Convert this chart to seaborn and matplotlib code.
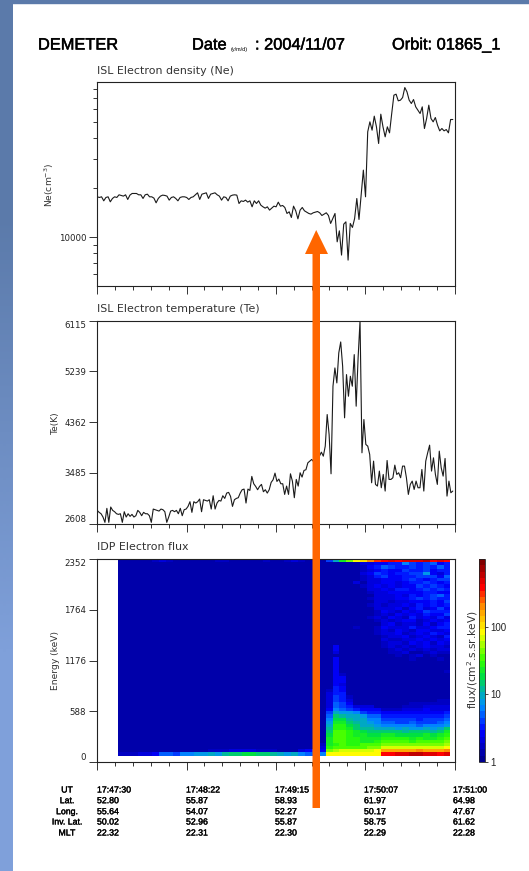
import numpy as np
import pandas as pd
import seaborn as sns
import matplotlib.pyplot as plt
import matplotlib.patheffects as pe
from matplotlib.colors import LinearSegmentedColormap, LogNorm
from matplotlib.patches import Polygon, Rectangle
from matplotlib.ticker import NullFormatter, NullLocator

sns.set_theme(style="white")
plt.rcParams["font.family"] = ["DejaVu Sans"]

W, H = 529, 871

# electron density, cm-3
ne_values = [17640,17480,17640,16680,17480,17640,16450,17240,17640,17480,18140,17980,17810,18140,17000,18060,18480,18480,18480,18140,18140,17240,18140,18300,17640,17640,17320,16220,17240,17810,18060,17980,17810,16840,17480,17640,17240,16680,17480,17640,17640,17480,17000,17480,17640,18140,18650,17000,18300,18480,18650,17240,18300,18480,18650,18140,17810,16840,17640,17480,16680,17810,18060,18140,18060,16070,16680,16530,16840,16380,16680,15340,16680,16070,16680,15700,15340,15060,15340,14650,15060,15480,
    15340,16370,15480,15630,15200,13980,14310,13220,15480,14510,12970,14640,15200,14510,14240,13980,13850,14110,14240,14370,14110,13590,13850,14110,13590,12160,13040,13980,9410,10970,7820,12040,12440,7290,12160,11500,13040,17230,12860,18050,25600,17640,43700,50240,44720,54380,46850,37130,55900,46850,40750,46850,43080,56430,72900,73920,67360,67980,70560,81100,76350,67980,64900,68600,61930,59130,56430,61930,45770,52630,63400,52630,50240,53370,47950,44300,45770,44300,45120,43080,51900,51900]

# electron temperature, K
te_values = [2838,2804,2780,2723,2631,2873,2631,2896,2838,2815,2780,2769,2780,2631,2815,2723,2780,2735,2769,2723,2746,2838,2804,2746,2804,2780,2780,2746,2631,2861,2850,2838,2826,2861,2850,2815,2631,2723,2826,2838,2815,2838,2780,2873,2746,2850,2861,2907,2988,2804,2988,2965,2988,3034,2815,3022,3010,2999,3022,2861,3091,2861,2965,3010,2999,3091,3045,3137,3149,3080,2907,3022,3045,3057,3137,3195,3206,2965,3206,3183,3425,3298,3252,3195,3252,3287,3160,3195,3137,3195,3321,3367,3482,3338,3379,3298,
    3298,3114,3258,3114,3470,3344,3057,3373,3258,3488,3413,3528,3540,3660,3689,3718,3678,3603,3746,3775,3844,3775,3948,4494,4149,3470,4983,5299,5040,5558,5748,5328,4437,5184,4810,5155,4983,5529,4638,5472,6115,3833,4408,3977,3948,3804,3315,3689,3287,3258,3517,3229,3459,3172,3700,3373,3373,3402,3620,3459,3488,3402,3603,3603,3402,3114,3287,3344,3200,3344,3229,3229,3545,3172,3689,3833,3965,3517,3746,3459,3287,3862,3574,3430,3735,3085,3344,3143,3172]

# flux colour levels (0-31) read per cell; left block is flat except these rows
flux_left_top = [1,1,1,1,1,2,3,2,1,1,1,1,1,1,2,2,1,1,1,1,1,2,1,1,2,3,2,1,1]
flux_left_r60 = [1,1,1,1,1,1,1,1,1,1,1,1,1,2,2,2,3,3,3,3,2,2,2,1,1,1,3,4,6]
flux_left_r61 = [2,2,2,3,3,4,7,7,6,8,8,9,9,10,9,11,12,12,13,13,12,12,11,10,9,10,8,7,7]
flux_right_rows = [
    "16aehkloqrsrssstrsr", "1111113344558656745", "1111112457655656575", "1111112345446556455",
    "1111113465455669435", "1111112356445566647", "1111112334445654566", "1111131334434556545",
    "1111112343434465654", "1111111334355456565", "1111111233444445544", "1111111133343545675",
    "1111111233344565655", "1111111133233444546", "1111111232334354545", "1111111133342453464",
    "1111111124324346555", "1111111123243435446", "1111111232432534353", "1111111123234423434",
    "1111111113423324245", "1111121124333533455", "1111111123243244334", "1111111123342343543",
    "1111111112334234325", "1111111113223343434", "1111111112332434243", "1141111112323234332",
    "1141111111232323233", "1131111111223112322", "1111111111121231211", "1141111111111211121",
    "1141111111111111111", "1141111111111111111", "1141111111111111111", "1141111111111111112",
    "1142111111111111111", "1144111111111111111", "1144111111111111111", "1143111111111111111",
    "1154111111111111111", "1254111111111111111", "1355111111111111111", "1365211111111111111",
    "1365311111111111122", "1376411111111222222", "1376533311112223333", "1487654442223334333",
    "16a9986554444444445", "17cbaa9775555555556", "18ddbaa886666656667", "19eecba987766766678",
    "1affdcaa98888878889", "1bffecbbaaa9a99a9ac", "1cggfedcccccbcccbce", "1dggfeeddeeddddedef",
    "1eggffeeeffffefeefg", "1eggffeefggggfggggh", "2efgffggghhhhhhhhhi", "3fggggghhjjjjjjjjjk",
    "4hijjjjjknnnnnonnno", "8kkkkkkkkrrssttssrs",
]

ne_minor = [6000, 7000, 8000, 9000, 20000, 30000, 40000, 50000, 60000, 70000, 80000]
te_ticks = [2608, 3485, 4362, 5239, 6115]
energy_ticks = [0, 588, 1176, 1764, 2352]
cbar_ticks = [1, 10, 100]

table_names = ["UT", "Lat.", "Long.", "Inv. Lat.", "MLT"]
ut_labels = ["17:47:30", "17:48:22", "17:49:15", "17:50:07", "17:51:00"]
lat_labels = ["52.80", "55.87", "58.93", "61.97", "64.98"]
long_labels = ["55.64", "54.07", "52.27", "50.17", "47.67"]
invlat_labels = ["50.02", "52.96", "55.87", "58.75", "61.62"]
mlt_labels = ["22.32", "22.31", "22.30", "22.29", "22.28"]


def rect(left, top, right, bottom):
    return [left / W, 1 - bottom / H, (right - left) / W, (bottom - top) / H]


def ftext(x, y, s, heavy=0, **kw):
    kw.setdefault("va", "center")
    kw.setdefault("color", "#111111")
    t = fig.text(x / W, 1 - y / H, s, **kw)
    if heavy:
        t.set_path_effects([pe.withStroke(linewidth=heavy, foreground="black")])


def style_axis(ax):
    for sp in ax.spines.values():
        sp.set_visible(True)
        sp.set_color("#222222")
        sp.set_linewidth(0.8)
    ax.set_xlabel("")
    ax.set_ylabel("")


def set_time_ticks(ax, convert=lambda t: t):
    ax.set_xticks([convert(t) for t in np.arange(0, 210.1, 52.5)])
    ax.set_xticks([convert(t) for t in np.arange(0, 210.1, 10.5)], minor=True)
    ax.xaxis.set_major_formatter(NullFormatter())
    ax.xaxis.set_minor_formatter(NullFormatter())
    ax.tick_params(axis="x", which="major", bottom=True, length=6, width=0.7, color="#333333")
    ax.tick_params(axis="x", which="minor", bottom=True, length=3, width=0.7, color="#333333")


fig = plt.figure(figsize=(W / 100, H / 100), dpi=100, facecolor="white")

# slide background: blue strip on the left and along the top
bg = fig.add_axes([0, 0, 13 / W, 1])
bg.imshow(np.array([[0.0], [1.0]]), aspect="auto", interpolation="bilinear",
          cmap=LinearSegmentedColormap.from_list("slide", ["#5b7aaa", "#7fa0da"]))
bg.axis("off")
fig.add_artist(Rectangle((0, 1 - 3 / H), 1, 3 / H, transform=fig.transFigure, color="#5b7aaa"))

LEFT, RIGHT = 97.2, 454.5
PANEL1 = (82.5, 285.7)
PANEL2 = (320.7, 523.7)
PANEL3 = (559.0, 762.0)

# density
ax1 = fig.add_axes(rect(LEFT, PANEL1[0], RIGHT, PANEL1[1]))
ne_time = np.linspace(0, 209, len(ne_values))
sns.lineplot(x=ne_time, y=ne_values, ax=ax1, color="#1a1a1a", linewidth=0.8, estimator=None, sort=False)
ax1.set_yscale("log")
ax1.set_xlim(0, 210)
ax1.set_ylim(5100, 87000)
ax1.set_yticks([10000])
ax1.set_yticklabels(["10000"], fontsize=6.2, color="#222222")
ax1.set_yticks(ne_minor, minor=True)
ax1.yaxis.set_minor_formatter(NullFormatter())
ax1.tick_params(axis="y", which="major", left=True, length=6, width=0.7, color="#333333", pad=2)
ax1.tick_params(axis="y", which="minor", left=True, length=3, width=0.7, color="#333333")
set_time_ticks(ax1)
style_axis(ax1)

# temperature
ax2 = fig.add_axes(rect(LEFT, PANEL2[0], RIGHT, PANEL2[1]))
te_time = np.linspace(0, 209, len(te_values))
sns.lineplot(x=te_time, y=te_values, ax=ax2, color="#1a1a1a", linewidth=0.8, estimator=None, sort=False)
ax2.set_xlim(0, 210)
ax2.set_ylim(te_ticks[0], te_ticks[-1])
ax2.set_yticks(te_ticks)
ax2.set_yticklabels([str(v) for v in te_ticks], fontsize=6.2, color="#222222")
ax2.get_yticklabels()[0].set_va("bottom")
ax2.get_yticklabels()[-1].set_va("top")
ax2.tick_params(axis="y", which="major", left=True, length=6, width=0.7, color="#333333", pad=2)
set_time_ticks(ax2)
style_axis(ax2)

# flux spectrogram
levels = np.ones((len(flux_right_rows), 48))
levels[0, :29] = flux_left_top
levels[60, :29] = flux_left_r60
levels[61, :29] = flux_left_r61
for r, row in enumerate(flux_right_rows):
    levels[r, 29:] = [int(c, 32) for c in row]
flux = pd.DataFrame(10 ** (3 * (levels + 0.5) / 32))

flux_cmap = LinearSegmentedColormap.from_list("flux", [
    (0.0, "#000090"), (0.14, "#0000ff"), (0.27, "#0090ff"), (0.34, "#00b0b0"),
    (0.42, "#00e040"), (0.5, "#30ff00"), (0.64, "#ffff00"), (0.77, "#ff9000"),
    (0.87, "#ff0000"), (1.0, "#800000")], N=32)

ax3 = fig.add_axes(rect(LEFT, PANEL3[0], RIGHT, PANEL3[1]))
cax = fig.add_axes(rect(479.3, PANEL3[0], 485.4, PANEL3[1]))
sns.heatmap(flux, ax=ax3, cbar_ax=cax, cmap=flux_cmap, norm=LogNorm(vmin=1, vmax=1000),
            xticklabels=False, yticklabels=False)
X0, X1 = -2.93, 48.58
ax3.set_xlim(X0, X1)
ax3.set_ylim(64, 0)
set_time_ticks(ax3, lambda t: X0 + t / 210 * (X1 - X0))
ax3.set_yticks([64 - e / 36.75 for e in energy_ticks])
ax3.set_yticklabels([str(e) for e in energy_ticks], fontsize=6.2, color="#222222")
ax3.get_yticklabels()[0].set_va("bottom")
ax3.get_yticklabels()[-1].set_va("top")
ax3.tick_params(axis="y", which="major", left=True, length=6, width=0.7, color="#333333", pad=2)
style_axis(ax3)

cbar = ax3.collections[0].colorbar
cbar.set_ticks(cbar_ticks)
cbar.set_ticklabels([str(v) for v in cbar_ticks], fontsize=7, family="Liberation Sans", color="#222222")
cax.yaxis.set_minor_locator(NullLocator())
cax.tick_params(axis="y", which="major", right=True, length=2, width=0.6, pad=1.5)
cbar.outline.set_edgecolor("#222222")
cbar.outline.set_linewidth(0.6)

# header
head = dict(fontsize=11.8, family="Liberation Sans", color="black", heavy=0.35)
ftext(38, 45, "DEMETER", **head)
ftext(192, 45, "Date", **head)
ftext(231, 50, "(y/m/d)", fontsize=4, family="Liberation Sans", color="black")
ftext(255, 45, ": 2004/11/07", **head)
ftext(392, 45, "Orbit: 01865_1", **head)

# panel titles and side labels
ftext(LEFT, 71, "ISL Electron density (Ne)", fontsize=7.9, color="#333333")
ftext(LEFT, 309, "ISL Electron temperature (Te)", fontsize=7.9, color="#333333")
ftext(LEFT, 547, "IDP Electron flux", fontsize=7.9, color="#333333")
ftext(49, 185, "Ne(cm$^{-3}$)", fontsize=6.6, rotation=90, ha="center", color="#333333")
ftext(55, 423, "Te(K)", fontsize=6.6, rotation=90, ha="center", color="#333333")
ftext(55, 660, "Energy (keV)", fontsize=6.6, rotation=90, ha="center", color="#333333")
ftext(472.5, 660, "flux/(cm$^{2}$.s.sr.keV)", fontsize=7.6, rotation=90, ha="center", color="#333333")

# orbit table under the time axis
table_rows = [ut_labels, lat_labels, long_labels, invlat_labels, mlt_labels]
table_y = [790, 800.7, 811.7, 822, 833]
table_x = [97, 186, 275, 364, 453]
cell = dict(fontsize=6.3, family="Liberation Sans", color="black", heavy=0.25)
for name, row, y in zip(table_names, table_rows, table_y):
    ftext(67, y, name, ha="center", **cell)
    for x, s in zip(table_x, row):
        ftext(x, y, s, **cell)

# orange arrow over all panels
arrow_px = [(312.5, 808), (320, 808), (320, 254), (328, 254), (316.2, 230), (305, 254), (312.5, 254)]
fig.add_artist(Polygon([(x / W, 1 - y / H) for x, y in arrow_px], closed=True,
                       transform=fig.transFigure, facecolor="#ff6600", edgecolor="none", zorder=10))

fig.savefig("out.png", dpi=100)
